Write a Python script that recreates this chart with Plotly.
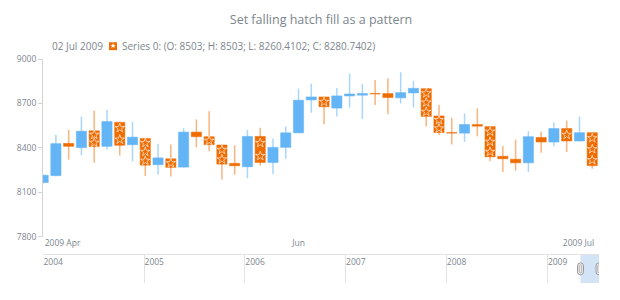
import plotly.graph_objects as go

# ---------------- data ----------------
opens  = [8167, 8213, 8431, 8402, 8516, 8411, 8573, 8422, 8464, 8287, 8327,
          8271, 8507, 8476, 8420, 8296, 8273, 8478, 8302, 8404, 8502, 8724,
          8744, 8669, 8751, 8756, 8767, 8767, 8738, 8771, 8800, 8616, 8504,
          8500, 8558, 8544, 8344, 8324, 8300, 8471, 8440, 8531, 8447, 8503]
highs  = [8220, 8489, 8522, 8611, 8651, 8658, 8576, 8576, 8466, 8429, 8424,
          8533, 8593, 8647, 8422, 8418, 8522, 8536, 8464, 8544, 8800, 8833,
          8746, 8804, 8902, 8833, 8858, 8871, 8911, 8851, 8802, 8689, 8604,
          8633, 8667, 8546, 8413, 8456, 8513, 8509, 8571, 8584, 8611, 8503]
lows   = [8160, 8210, 8322, 8351, 8300, 8389, 8349, 8309, 8211, 8220, 8207,
          8268, 8404, 8378, 8187, 8220, 8196, 8282, 8224, 8327, 8500, 8638,
          8560, 8613, 8673, 8596, 8689, 8627, 8700, 8673, 8544, 8487, 8424,
          8440, 8478, 8311, 8238, 8247, 8238, 8367, 8411, 8373, 8445, 8260.4102]
closes = [8216, 8429, 8411, 8513, 8409, 8578, 8418, 8473, 8284, 8333, 8269,
          8507, 8476, 8422, 8291, 8280, 8478, 8302, 8404, 8502, 8722, 8744,
          8678, 8751, 8764, 8767, 8764, 8740, 8773, 8802, 8613, 8504, 8500,
          8558, 8547, 8340, 8327, 8300, 8476, 8440, 8531, 8447, 8503, 8280.7402]
last_date = "02 Jul 2009"
series_name = "Series 0"

x_tick_pos = [0.12, 19.5, 40.7]
x_tick_text = ["2009 Apr", "Jun", "2009 Jul"]
y_ticks = [7800, 8100, 8400, 8700, 9000]

scroller_years = ["2004", "2005", "2006", "2007", "2008", "2009"]
scroller_range = ["2004-01-01", "2009-07-07"]
selection = ["2009-05-01", "2009-07-07"]

# ---------------- styles ----------------
BLUE = "#64b5f6"
ORANGE = "#ef6c00"
BLUE_T = "rgba(100,181,246,0.55)"
ORANGE_T = "rgba(239,108,0,0.5)"
TEXT = "#7c868e"
AX = "#d3d3d3"
FONT = "Open Sans"

n = len(opens)
idx = list(range(n))
up = [i for i in idx if closes[i] >= opens[i]]
dn = [i for i in idx if closes[i] < opens[i]]

def wicks(ids):
    xs, ys = [], []
    for i in ids:
        xs += [i, i, None]
        ys += [lows[i], highs[i], None]
    return xs, ys

fig = go.Figure()
for ids, col in ((up, BLUE_T), (dn, ORANGE_T)):
    wx, wy = wicks(ids)
    fig.add_trace(go.Scatter(x=wx, y=wy, mode="lines", line=dict(color=col, width=1.5),
                             hoverinfo="skip", showlegend=False))

for ids, col, lcol in ((up, BLUE, BLUE_T), (dn, ORANGE, ORANGE_T)):
    bases = [min(opens[i], closes[i]) for i in ids]
    hts = [max(abs(closes[i] - opens[i]), 3) for i in ids]
    fig.add_trace(go.Bar(x=ids, y=hts, base=bases, width=0.8,
                         marker=dict(color=col, line=dict(color=lcol, width=1)),
                         hoverinfo="skip", showlegend=False))

# star hatch inside falling bodies
TILE = 71
sx, sy = [], []
for i in dn:
    top, bot = opens[i], closes[i]
    h = top - bot
    if h < 40:
        continue
    k = max(1, round(h / TILE))
    for j in range(k):
        sx.append(i)
        sy.append(top - (j + 0.5) * h / k)
fig.add_trace(go.Scatter(x=sx, y=sy, mode="markers",
                         marker=dict(symbol="star-open", size=7, color="rgba(255,255,255,0.9)",
                                     line=dict(width=0.7)),
                         hoverinfo="skip", showlegend=False))

# scroller invisible anchor trace
fig.add_trace(go.Scatter(x=scroller_range, y=[0.5, 0.5], xaxis="x2", yaxis="y2",
                         mode="lines", line=dict(width=0), hoverinfo="skip", showlegend=False))

def fmt(v):
    return f"{v:.4f}".rstrip("0").rstrip(".")

legend_txt = (f"{series_name}: (O: {fmt(opens[-1])}; H: {fmt(highs[-1])}; "
              f"L: {fmt(lows[-1])}; C: {fmt(closes[-1])})")

main_bottom = (286 - 239.3) / 227
scr_top = (286 - 257.3) / 227

fig.update_layout(
    width=620, height=300,
    margin=dict(l=43, r=21, t=59, b=14),
    paper_bgcolor="white", plot_bgcolor="white",
    barmode="overlay", showlegend=False,
    font=dict(family=FONT, color=TEXT, size=9),
    title=dict(text="Set falling hatch fill as a pattern", x=0.5, xref="paper",
               y=1 - 20 / 300, yref="container", xanchor="center", yanchor="middle",
               font=dict(family=FONT, size=12.5, color=TEXT)),
    xaxis=dict(domain=[0, 1], anchor="y", range=[-0.01, 43.53],
               tickvals=x_tick_pos, ticktext=x_tick_text,
               ticklabelposition="outside right", ticks="",
               showgrid=False, zeroline=False, showline=False,
               tickfont=dict(size=8.5, color=TEXT)),
    yaxis=dict(domain=[main_bottom, 1], anchor="x", range=[7800, 9000],
               tickvals=y_ticks, ticks="outside", ticklen=4, tickcolor=AX,
               showline=True, linecolor=AX, linewidth=1,
               showgrid=False, zeroline=False,
               tickfont=dict(size=8.5, color=TEXT)),
    xaxis2=dict(domain=[0, 1], anchor="y2", type="date", range=scroller_range,
                tickvals=[y + "-01-01" for y in scroller_years], ticktext=scroller_years,
                side="top", ticklabelposition="inside right", ticks="",
                showgrid=True, gridcolor="#e3e3e3", gridwidth=1,
                showline=True, linecolor="#e3e3e3", linewidth=1, zeroline=False,
                tickfont=dict(size=8.5, color=TEXT)),
    yaxis2=dict(domain=[0, scr_top], anchor="x2", range=[0, 1], visible=False,
                fixedrange=True),
)

shapes = [
    dict(type="rect", xref="x2", yref="y2", x0=selection[0], x1=selection[1], y0=0, y1=1,
         fillcolor="#d3e4f6", line=dict(width=0), layer="below"),
]
handle = "M-3,-3 L-3,3 Q-3,6 0,6 Q3,6 3,3 L3,-3 Q3,-6 0,-6 Q-3,-6 -3,-3 Z"
inner = "M-1.2,-3 L-1.2,3 Q-1.2,4 0,4 Q1.2,4 1.2,3 L1.2,-3 Q1.2,-4 0,-4 Q-1.2,-4 -1.2,-3 Z"
for xa in selection:
    shapes.append(dict(type="path", xref="x2", yref="y2", xsizemode="pixel", ysizemode="pixel",
                       xanchor=xa, yanchor=0.5, path=handle,
                       fillcolor="#eeeeee", line=dict(color="#9a9a9a", width=1)))
    shapes.append(dict(type="path", xref="x2", yref="y2", xsizemode="pixel", ysizemode="pixel",
                       xanchor=xa, yanchor=0.5, path=inner,
                       fillcolor="rgba(0,0,0,0)", line=dict(color="#b0b0b0", width=1)))
# legend icon
shapes.append(dict(type="rect", xref="paper", yref="paper",
                   x0=(109 - 43) / 556, x1=(117 - 43) / 556,
                   y0=(286 - 50) / 227, y1=(286 - 42) / 227,
                   fillcolor=ORANGE, line=dict(width=0)))
fig.update_layout(shapes=shapes)

fig.add_annotation(text=last_date, xref="paper", yref="paper",
                   x=(50 - 43) / 556, y=(286 - 46) / 227, xanchor="left", yanchor="middle",
                   showarrow=False, font=dict(family=FONT, size=10, color=TEXT))
fig.add_annotation(text="★", xref="paper", yref="paper",
                   x=(113 - 43) / 556, y=(286 - 46) / 227, xanchor="center", yanchor="middle",
                   showarrow=False, font=dict(family="DejaVu Sans", size=7, color="white"))
fig.add_annotation(text=legend_txt, xref="paper", yref="paper",
                   x=(120 - 43) / 556, y=(286 - 46) / 227, xanchor="left", yanchor="middle",
                   showarrow=False, font=dict(family=FONT, size=10, color=TEXT))

fig.write_html("out.html")
